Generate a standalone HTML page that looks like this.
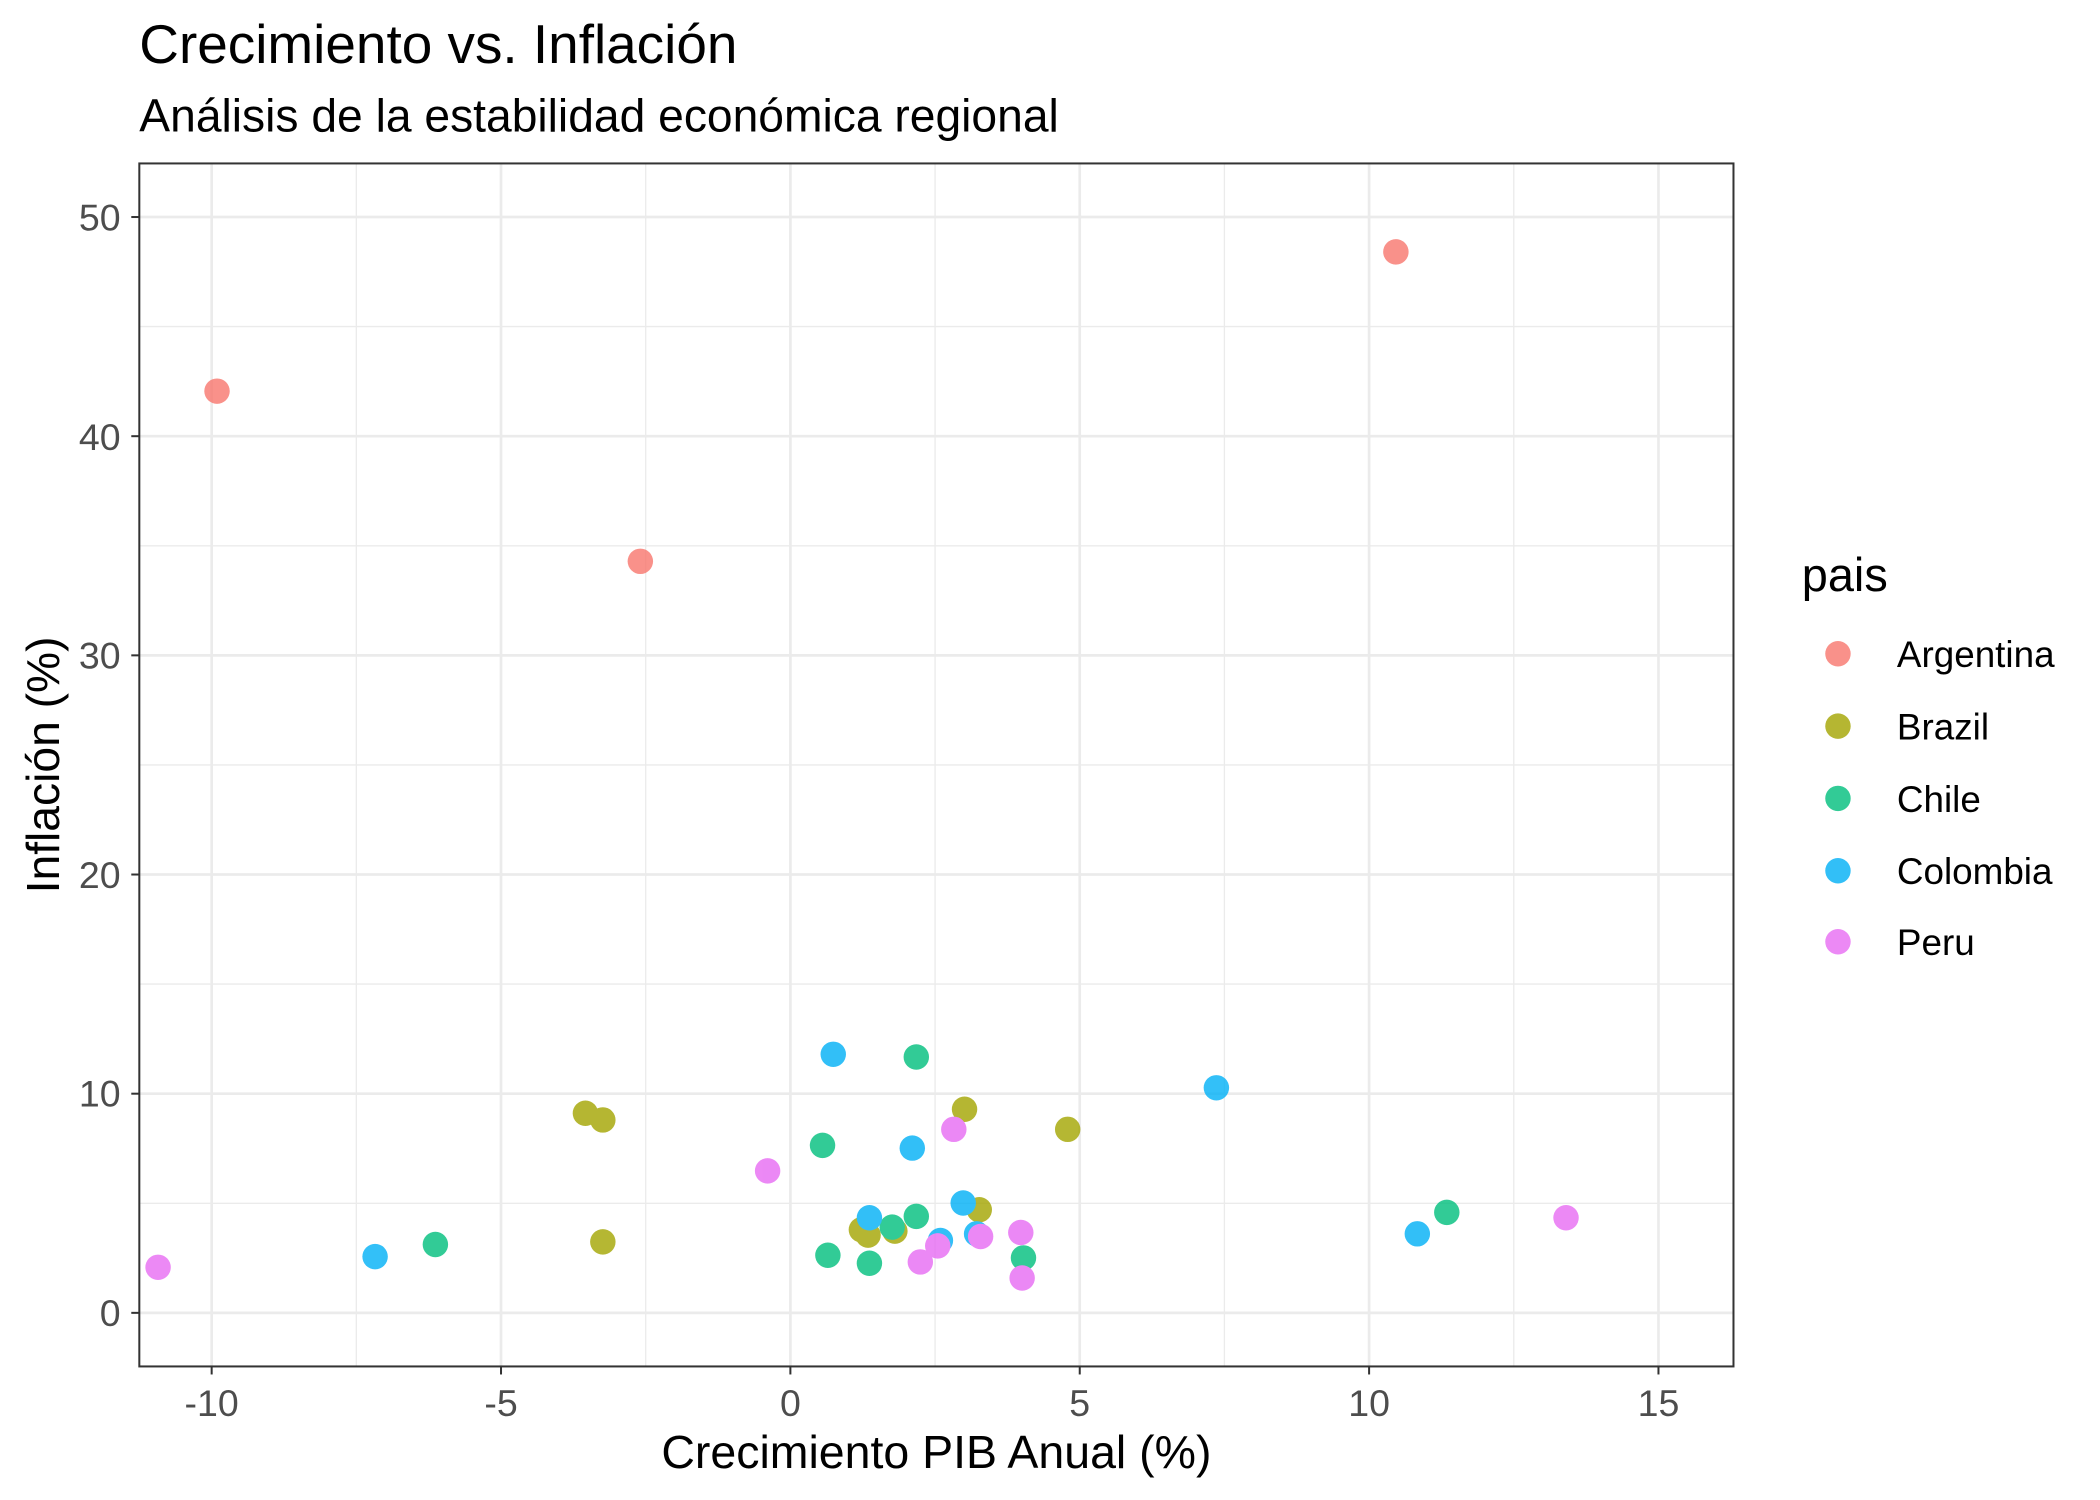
<!DOCTYPE html>
<html><head><meta charset="utf-8"><style>
html,body{margin:0;padding:0;background:#fff;}
svg{display:block;font-family:"Liberation Sans",Arial,sans-serif;}
</style></head><body>
<svg width="2100" height="1500" viewBox="0 0 1567.6 1119.7" preserveAspectRatio="none" xmlns="http://www.w3.org/2000/svg">
<rect width="1567.6" height="1119.7" fill="#fff"/>
<text x="104" y="47" font-size="41" fill="#000">Crecimiento vs. Inflación</text>
<text x="104" y="98" font-size="34.5" fill="#000">Análisis de la estabilidad económica regional</text>
<g stroke="#ebebeb" stroke-width="1">
<line x1="104" x2="1294" y1="898.2" y2="898.2"/><line x1="104" x2="1294" y1="734.6" y2="734.6"/>
<line x1="104" x2="1294" y1="571" y2="571"/><line x1="104" x2="1294" y1="407.4" y2="407.4"/>
<line x1="104" x2="1294" y1="243.8" y2="243.8"/>
<line y1="122" y2="1020" x1="266" x2="266"/><line y1="122" y2="1020" x1="482" x2="482"/>
<line y1="122" y2="1020" x1="698" x2="698"/><line y1="122" y2="1020" x1="914" x2="914"/>
<line y1="122" y2="1020" x1="1130" x2="1130"/>
</g>
<g stroke="#ebebeb" stroke-width="2">
<line x1="104" x2="1294" y1="980" y2="980"/><line x1="104" x2="1294" y1="816.4" y2="816.4"/>
<line x1="104" x2="1294" y1="652.8" y2="652.8"/><line x1="104" x2="1294" y1="489.2" y2="489.2"/>
<line x1="104" x2="1294" y1="325.6" y2="325.6"/><line x1="104" x2="1294" y1="162" y2="162"/>
<line y1="122" y2="1020" x1="158" x2="158"/><line y1="122" y2="1020" x1="374" x2="374"/>
<line y1="122" y2="1020" x1="590" x2="590"/><line y1="122" y2="1020" x1="806" x2="806"/>
<line y1="122" y2="1020" x1="1022" x2="1022"/><line y1="122" y2="1020" x1="1238" x2="1238"/>
</g>
<g opacity="0.8">
<g fill="#F8766D"><circle cx="162" cy="292" r="9.5"/><circle cx="478" cy="419" r="9.5"/><circle cx="1042" cy="188" r="9.5"/></g>
<g fill="#A3A500"><circle cx="437" cy="831" r="9.5"/><circle cx="450" cy="836" r="9.5"/><circle cx="450" cy="927" r="9.5"/><circle cx="720" cy="828" r="9.5"/><circle cx="797" cy="843" r="9.5"/><circle cx="731" cy="903" r="9.5"/><circle cx="643" cy="918" r="9.5"/><circle cx="648" cy="922" r="9.5"/><circle cx="668" cy="919" r="9.5"/></g>
<g fill="#00BF7D"><circle cx="325" cy="929" r="9.5"/><circle cx="614" cy="855" r="9.5"/><circle cx="618" cy="937" r="9.5"/><circle cx="649" cy="943" r="9.5"/><circle cx="684" cy="789" r="9.5"/><circle cx="684" cy="908" r="9.5"/><circle cx="666" cy="916" r="9.5"/><circle cx="764" cy="939" r="9.5"/><circle cx="1080" cy="905" r="9.5"/></g>
<g fill="#00B0F6"><circle cx="280" cy="938" r="9.5"/><circle cx="622" cy="787" r="9.5"/><circle cx="681" cy="857" r="9.5"/><circle cx="649" cy="909" r="9.5"/><circle cx="702" cy="926" r="9.5"/><circle cx="719" cy="898" r="9.5"/><circle cx="729" cy="921" r="9.5"/><circle cx="908" cy="812" r="9.5"/><circle cx="1058" cy="921" r="9.5"/></g>
<g fill="#E76BF3"><circle cx="118" cy="946" r="9.5"/><circle cx="573" cy="874" r="9.5"/><circle cx="712" cy="843" r="9.5"/><circle cx="687" cy="942" r="9.5"/><circle cx="700" cy="930" r="9.5"/><circle cx="732" cy="923" r="9.5"/><circle cx="762" cy="920" r="9.5"/><circle cx="763" cy="954" r="9.5"/><circle cx="1169" cy="909" r="9.5"/></g>
</g>
<rect x="104" y="122" width="1190" height="898" fill="none" stroke="#333" stroke-width="1.5"/>
<g stroke="#333" stroke-width="1.5">
<line x1="98" x2="104" y1="980" y2="980"/><line x1="98" x2="104" y1="816.4" y2="816.4"/><line x1="98" x2="104" y1="652.8" y2="652.8"/><line x1="98" x2="104" y1="489.2" y2="489.2"/><line x1="98" x2="104" y1="325.6" y2="325.6"/><line x1="98" x2="104" y1="162" y2="162"/>
<line y1="1020" y2="1026" x1="158" x2="158"/><line y1="1020" y2="1026" x1="374" x2="374"/><line y1="1020" y2="1026" x1="590" x2="590"/><line y1="1020" y2="1026" x1="806" x2="806"/><line y1="1020" y2="1026" x1="1022" x2="1022"/><line y1="1020" y2="1026" x1="1238" x2="1238"/>
</g>
<g font-size="28" fill="#4d4d4d" text-anchor="end">
<text x="90" y="990">0</text><text x="90" y="826">10</text><text x="90" y="663">20</text><text x="90" y="499">30</text><text x="90" y="336">40</text><text x="90" y="172">50</text>
</g>
<g font-size="28" fill="#4d4d4d" text-anchor="middle">
<text x="158" y="1057">-10</text><text x="374" y="1057">-5</text><text x="590" y="1057">0</text><text x="806" y="1057">5</text><text x="1022" y="1057">10</text><text x="1238" y="1057">15</text>
</g>
<text x="699" y="1096" font-size="34.7" text-anchor="middle" fill="#000">Crecimiento PIB Anual (%)</text>
<text transform="translate(44,571) rotate(-90)" font-size="34.5" text-anchor="middle" fill="#000">Inflación (%)</text>
<text x="1345" y="441" font-size="35" fill="#000">pais</text>
<g opacity="0.8">
<circle cx="1372" cy="488" r="9.5" fill="#F8766D"/><circle cx="1372" cy="542" r="9.5" fill="#A3A500"/><circle cx="1372" cy="596" r="9.5" fill="#00BF7D"/><circle cx="1372" cy="650" r="9.5" fill="#00B0F6"/><circle cx="1372" cy="703" r="9.5" fill="#E76BF3"/>
</g>
<g font-size="27.5" fill="#000">
<text x="1416" y="498">Argentina</text><text x="1416" y="552">Brazil</text><text x="1416" y="606">Chile</text><text x="1416" y="660">Colombia</text><text x="1416" y="713">Peru</text>
</g>
</svg>
</body></html>
